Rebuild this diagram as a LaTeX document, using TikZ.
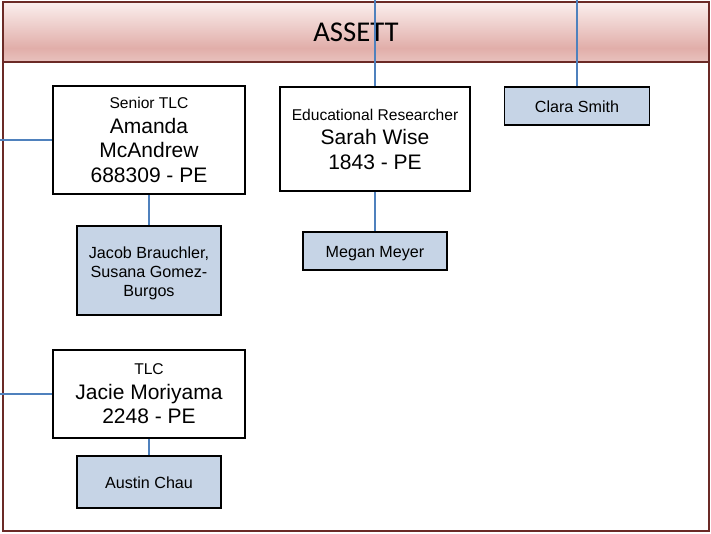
\documentclass[tikz,border=0pt]{standalone}
\usepackage{fontspec}
\setmainfont{Liberation Sans}
\newfontfamily\titlefont{Carlito}
\definecolor{framered}{HTML}{6B2A26}
\definecolor{headtop}{HTML}{FBEFEE}
\definecolor{headbot}{HTML}{E1AEA9}
\definecolor{linkblue}{HTML}{4F81BD}
\definecolor{staffblue}{HTML}{C6D4E6}

\begin{document}
\begin{tikzpicture}[x=0.75pt, y=-0.75pt,
    lead/.style={draw, line width=1.2pt, fill=white, align=center, inner sep=0pt,
      font=\fontsize{15.75}{18.4}\selectfont},
    staff/.style={draw, line width=1.2pt, fill=staffblue, align=center, inner sep=0pt,
      font=\fontsize{12.1}{13.9}\selectfont},
    oneline/.style={text height=11.5pt, text depth=2.5pt},
    link/.style={linkblue, line width=1.2pt}]
    \useasboundingbox (0,0) rectangle (711,533);
    % header band
    \shade[top color=headtop, bottom color=headbot] (3,2) rectangle (709,48);
    \shade[top color=headbot, bottom color=headbot!75!white] (3,48) rectangle (709,62);
    \draw[framered, line width=1.5pt] (3,2) rectangle (709,531);
    \draw[framered, line width=1.5pt] (3,62) -- (709,62);
    \node[font=\titlefont\fontsize{21.5}{24}\selectfont] (title) at (356,32) {ASSETT};
    % people
    \node[lead, minimum width=144pt, minimum height=81pt] (senior) at (149,140)
      {{\fontsize{11.7}{14}\selectfont Senior TLC}\\ Amanda\\ McAndrew\\ 688309 - PE};
    \node[staff, minimum width=108pt, minimum height=66.75pt] (helpers) at (149,270.5)
      {\rule{0pt}{13pt}Jacob Brauchler,\\ Susana Gomez-\\ Burgos};
    \node[lead, minimum width=142.5pt, minimum height=78pt] (researcher) at (375,139)
      {{\fontsize{11.7}{14}\selectfont Educational Researcher}\\ Sarah Wise\\ 1843 - PE};
    \node[staff, oneline, minimum width=108pt, minimum height=28.5pt] (megan) at (375,251) {Megan Meyer};
    \node[staff, oneline, minimum width=108.75pt, minimum height=28.5pt] (clara) at (577,106) {Clara Smith};
    \node[lead, minimum width=144pt, minimum height=66pt] (tlc) at (149,394)
      {{\fontsize{11.7}{14}\selectfont TLC}\\ Jacie Moriyama\\ 2248 - PE};
    \node[staff, oneline, minimum width=108pt, minimum height=39pt] (austin) at (149,482) {Austin Chau};
    % connectors
    \coordinate (rfeed) at (researcher.north |- 0,0);
    \coordinate (cfeed) at (clara.north |- 0,0);
    \coordinate (sfeed) at (senior.west -| 0,0);
    \coordinate (tfeed) at (tlc.west -| 0,0);
    \draw[link] (rfeed) -- (researcher.north);
    \draw[link] (cfeed) -- (clara.north);
    \draw[link] (sfeed) -- (senior.west);
    \draw[link] (tfeed) -- (tlc.west);
    \draw[link] (senior.south) -- (helpers.north);
    \draw[link] (researcher.south) -- (megan.north);
    \draw[link] (tlc.south) -- (austin.north);
  \end{tikzpicture}
\end{document}
